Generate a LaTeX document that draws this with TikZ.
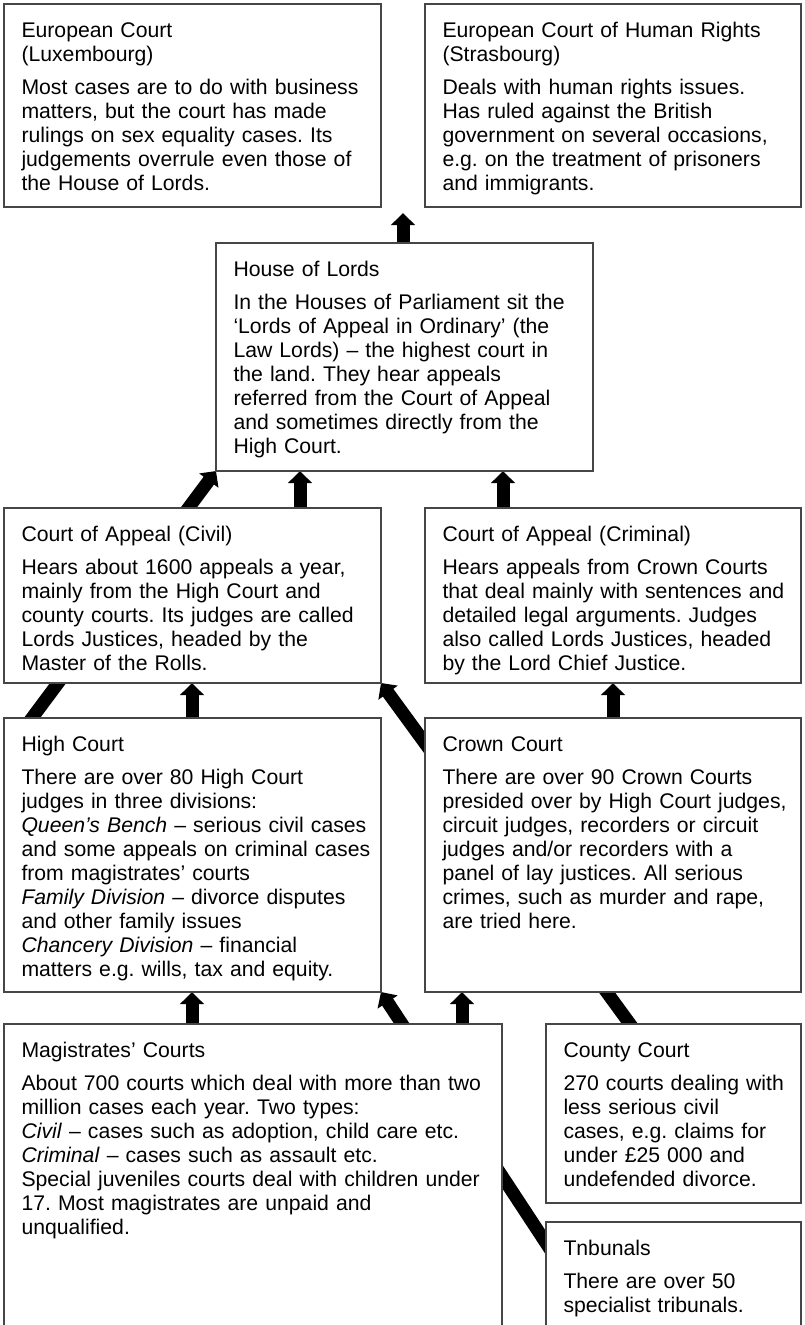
\documentclass[tikz,border=0pt]{standalone}
\usepackage{fontspec}
\setmainfont{Liberation Sans}
\usetikzlibrary{arrows.meta,fit,backgrounds}

\tikzset{every picture/.style={line width=0.75pt}}
\tikzset{
  court/.style={draw={rgb, 255:red, 70; green, 70; blue, 70 }, line width=1.2pt, fill=white, inner sep=0pt, outer sep=0pt},
  courttext/.style={anchor=base west, inner sep=0pt, align=left, text width=380pt, font=\fontsize{15.9pt}{18pt}\selectfont\frenchspacing},
  appeal/.style={line width=9.75pt, -{Triangle[width=17.5pt,length=9pt]}},
  behind/.style={appeal, shorten <=-10pt},
}

\begin{document}
\begin{tikzpicture}[x=0.75pt,y=0.75pt,yscale=-1,xscale=1]
\useasboundingbox (0,0) rectangle (805,1325);
\clip (0,0) rectangle (805,1325);

%Shape: Rectangle
\node [court, fit={(4,4) (381,207)}] (euro) {};
%Shape: Rectangle
\node [court, fit={(425,4) (801,207)}] (rights) {};
%Shape: Rectangle
\node [court, fit={(216,243) (593,471)}] (lords) {};
%Shape: Rectangle
\node [court, fit={(4,508) (381,683)}] (civil) {};
%Shape: Rectangle
\node [court, fit={(425,508) (801,683)}] (criminal) {};
%Shape: Rectangle
\node [court, fit={(4,718) (381,992)}] (high) {};
%Shape: Rectangle
\node [court, fit={(425,718) (801,992)}] (crown) {};
%Shape: Rectangle
\node [court, fit={(4,1024) (502,1345)}] (mag) {};
%Shape: Rectangle
\node [court, fit={(546,1024) (801,1203)}] (county) {};
%Shape: Rectangle
\node [court, fit={(546,1222) (801,1345)}] (trib) {};

% Text Node
\node [courttext] (euroText) at ([shift={(17,33)}]euro.north west) {European Court\\(Luxembourg)\\[6.75pt]Most cases are to do with business\\matters, but the court has made\\rulings on sex equality cases. Its\\judgements overrule even those of\\the House of Lords.};
% Text Node
\node [courttext] (rightsText) at ([shift={(17,33)}]rights.north west) {European Court of Human Rights\\(Strasbourg)\\[6.75pt]Deals with human rights issues.\\Has ruled against the British\\government on several occasions,\\e.g. on the treatment of prisoners\\and immigrants.};
% Text Node
\node [courttext] (lordsText) at ([shift={(17,33)}]lords.north west) {House of Lords\\[6.75pt]In the Houses of Parliament sit the\\‘Lords of Appeal in Ordinary’ (the\\Law Lords) – the highest court in\\the land. They hear appeals\\referred from the Court of Appeal\\and sometimes directly from the\\High Court.};
% Text Node
\node [courttext] (civilText) at ([shift={(17,33)}]civil.north west) {Court of Appeal (Civil)\\[6.75pt]Hears about 1600 appeals a year,\\mainly from the High Court and\\county courts. Its judges are called\\Lords Justices, headed by the\\Master of the Rolls.};
% Text Node
\node [courttext] (criminalText) at ([shift={(17,33)}]criminal.north west) {Court of Appeal (Criminal)\\[6.75pt]Hears appeals from Crown Courts\\that deal mainly with sentences and\\detailed legal arguments. Judges\\also called Lords Justices, headed\\by the Lord Chief Justice.};
% Text Node
\node [courttext] (highText) at ([shift={(17,33)}]high.north west) {High Court\\[6.75pt]There are over 80 High Court\\judges in three divisions:\\\textit{Queen’s Bench} – serious civil cases\\and some appeals on criminal cases\\from magistrates’ courts\\\textit{Family Division} – divorce disputes\\and other family issues\\\textit{Chancery Division} – financial\\matters e.g. wills, tax and equity.};
% Text Node
\node [courttext] (crownText) at ([shift={(17,33)}]crown.north west) {Crown Court\\[6.75pt]There are over 90 Crown Courts\\presided over by High Court judges,\\circuit judges, recorders or circuit\\judges and/or recorders with a\\panel of lay justices. All serious\\crimes, such as murder and rape,\\are tried here.};
% Text Node
\node [courttext] (magText) at ([shift={(17,33)}]mag.north west) {Magistrates’ Courts\\[6.75pt]About 700 courts which deal with more than two\\million cases each year. Two types:\\\textit{Civil} – cases such as adoption, child care etc.\\\textit{Criminal} – cases such as assault etc.\\Special juveniles courts deal with children under\\17. Most magistrates are unpaid and\\unqualified.};
% Text Node
\node [courttext] (countyText) at ([shift={(17,33)}]county.north west) {County Court\\[6.75pt]270 courts dealing with\\less serious civil\\cases, e.g. claims for\\under £25 000 and\\undefended divorce.};
% Text Node
\node [courttext] (tribText) at ([shift={(17,33)}]trib.north west) {Tnbunals\\[6.75pt]There are over 50\\specialist tribunals.};

% arrow feet and tips
\coordinate (europe) at (403,213);
\coordinate (civilUp) at (300,0);
\coordinate (criminalUp) at (503,0);
\coordinate (highUp) at (192,0);
\coordinate (crownUp) at (613,0);
\coordinate (magCrown) at (462,0);
\coordinate (highFoot) at (32,718);
\coordinate (countyFoot) at (630,1024);
\coordinate (tribFoot) at (546,1243);

\begin{scope}[on background layer]
%Straight Lines
\draw [appeal] (lords.north -| europe) -- (europe) ;
%Straight Lines
\draw [appeal] (civil.north -| civilUp) -- (lords.south -| civilUp) ;
%Straight Lines
\draw [appeal] (criminal.north -| criminalUp) -- (lords.south -| criminalUp) ;
%Straight Lines
\draw [behind] (high.north -| highFoot) -- (lords.south west) ;
%Straight Lines
\draw [appeal] (high.north -| highUp) -- (civil.south -| highUp) ;
%Straight Lines
\draw [behind] (county.north -| countyFoot) -- (civil.south east) ;
%Straight Lines
\draw [appeal] (crown.north -| crownUp) -- (criminal.south -| crownUp) ;
%Straight Lines
\draw [appeal] (mag.north -| highUp) -- (high.south -| highUp) ;
%Straight Lines
\draw [appeal] (mag.north -| magCrown) -- (crown.south -| magCrown) ;
%Straight Lines
\draw [behind] (trib.west |- tribFoot) -- (high.south east) ;
\end{scope}

\end{tikzpicture}
\end{document}
